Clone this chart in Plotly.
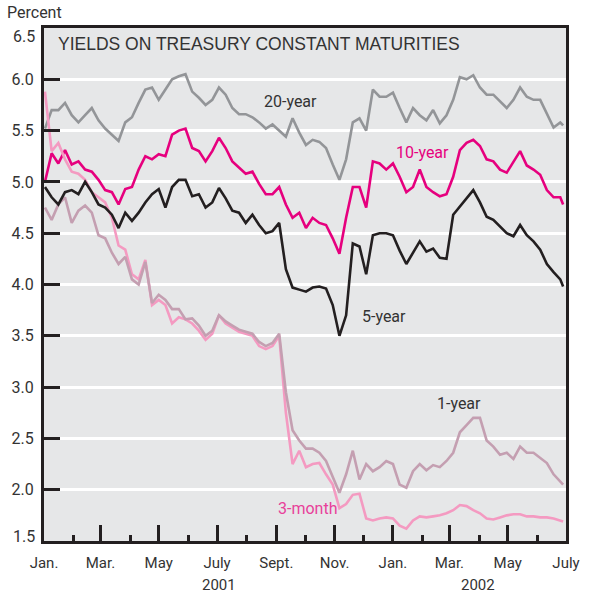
import pandas as pd
import plotly.graph_objects as go

# Weekly observation dates (Jan 2, 2001 ... ) plus final observation
dates = list(pd.date_range("2001-01-02", periods=78, freq="7D").strftime("%Y-%m-%d")) + ["2002-06-28"]

yield_20y = [5.52, 5.70, 5.70, 5.77, 5.65, 5.58, 5.65, 5.72, 5.60, 5.52,
             5.46, 5.40, 5.58, 5.63, 5.77, 5.90, 5.92, 5.80, 5.90, 6.00,
             6.03, 6.05, 5.88, 5.82, 5.75, 5.80, 5.92, 5.85, 5.72, 5.66,
             5.66, 5.63, 5.58, 5.52, 5.56, 5.50, 5.44, 5.62, 5.48, 5.36,
             5.41, 5.39, 5.33, 5.17, 5.02, 5.22, 5.58, 5.62, 5.50, 5.90,
             5.83, 5.83, 5.87, 5.72, 5.58, 5.72, 5.65, 5.60, 5.70, 5.57,
             5.65, 5.80, 6.02, 6.00, 6.04, 5.92, 5.85, 5.85, 5.78, 5.72,
             5.80, 5.92, 5.83, 5.80, 5.80, 5.67, 5.53, 5.58, 5.55]

yield_10y = [5.00, 5.28, 5.18, 5.31, 5.17, 5.20, 5.12, 5.10, 5.02, 4.92,
             4.90, 4.78, 4.93, 4.95, 5.12, 5.25, 5.22, 5.27, 5.25, 5.46,
             5.50, 5.52, 5.33, 5.30, 5.20, 5.30, 5.43, 5.33, 5.20, 5.14,
             5.08, 5.10, 4.98, 4.88, 4.88, 4.95, 4.78, 4.65, 4.70, 4.55,
             4.65, 4.60, 4.58, 4.45, 4.30, 4.65, 4.95, 4.95, 4.75, 5.20,
             5.18, 5.12, 5.18, 5.05, 4.90, 4.95, 5.12, 4.95, 4.90, 4.86,
             4.88, 5.05, 5.31, 5.38, 5.41, 5.35, 5.22, 5.20, 5.12, 5.09,
             5.20, 5.30, 5.16, 5.12, 5.07, 4.92, 4.85, 4.85, 4.78]

yield_5y = [4.95, 4.85, 4.78, 4.90, 4.92, 4.88, 5.00, 4.90, 4.78, 4.75,
            4.68, 4.55, 4.70, 4.62, 4.70, 4.80, 4.88, 4.93, 4.75, 4.95,
            5.02, 5.02, 4.86, 4.88, 4.75, 4.80, 4.94, 4.84, 4.72, 4.70,
            4.60, 4.68, 4.58, 4.50, 4.52, 4.60, 4.15, 3.97, 3.95, 3.93,
            3.97, 3.98, 3.96, 3.80, 3.50, 3.70, 4.40, 4.37, 4.10, 4.48,
            4.50, 4.50, 4.48, 4.33, 4.20, 4.31, 4.42, 4.32, 4.35, 4.26,
            4.25, 4.68, 4.76, 4.85, 4.92, 4.80, 4.66, 4.63, 4.56, 4.50,
            4.47, 4.58, 4.48, 4.42, 4.34, 4.20, 4.12, 4.05, 3.98]

yield_1y = [4.75, 4.63, 4.78, 4.85, 4.60, 4.72, 4.77, 4.70, 4.48, 4.45,
            4.31, 4.20, 4.27, 4.05, 4.00, 4.22, 3.82, 3.90, 3.85, 3.76,
            3.76, 3.66, 3.67, 3.60, 3.50, 3.55, 3.70, 3.64, 3.60, 3.56,
            3.54, 3.52, 3.44, 3.40, 3.43, 3.52, 2.95, 2.58, 2.48, 2.40,
            2.40, 2.36, 2.28, 2.12, 1.97, 2.15, 2.38, 2.10, 2.25, 2.18,
            2.22, 2.28, 2.25, 2.05, 2.02, 2.18, 2.25, 2.19, 2.24, 2.22,
            2.28, 2.36, 2.56, 2.63, 2.70, 2.70, 2.48, 2.42, 2.34, 2.36,
            2.30, 2.42, 2.36, 2.36, 2.31, 2.26, 2.15, 2.08, 2.05]

yield_3m = [5.88, 5.30, 5.38, 5.22, 5.10, 5.08, 5.02, 4.90, 4.85, 4.80,
            4.65, 4.38, 4.34, 4.10, 4.05, 4.24, 3.80, 3.85, 3.80, 3.62,
            3.68, 3.66, 3.62, 3.55, 3.46, 3.52, 3.70, 3.62, 3.58, 3.54,
            3.52, 3.50, 3.40, 3.37, 3.40, 3.50, 2.75, 2.25, 2.38, 2.22,
            2.25, 2.26, 2.15, 2.05, 1.82, 1.86, 1.95, 1.96, 1.72, 1.70,
            1.72, 1.73, 1.72, 1.65, 1.62, 1.70, 1.74, 1.73, 1.74, 1.75,
            1.77, 1.80, 1.85, 1.84, 1.80, 1.77, 1.72, 1.71, 1.73, 1.75,
            1.76, 1.76, 1.74, 1.74, 1.73, 1.73, 1.72, 1.70, 1.69]

major_tick_dates = ["2001-01-01", "2001-03-01", "2001-05-01", "2001-07-01", "2001-09-01",
                    "2001-11-01", "2002-01-01", "2002-03-01", "2002-05-01", "2002-07-01"]
major_tick_labels = ["Jan.", "Mar.", "May", "July", "Sept.", "Nov.", "Jan.", "Mar.", "May", "July"]
minor_tick_dates = ["2001-02-01", "2001-04-01", "2001-06-01", "2001-08-01", "2001-10-01",
                    "2001-12-01", "2002-02-01", "2002-04-01", "2002-06-01"]
y_ticks = [1.5, 2.0, 2.5, 3.0, 3.5, 4.0, 4.5, 5.0, 5.5, 6.0, 6.5]
# end labels (1.5 and 6.5) are drawn nudged inward, as in the original
y_tick_labels = ["", "2.0", "2.5", "3.0", "3.5", "4.0", "4.5", "5.0", "5.5", "6.0", ""]

C20 = "#939598"
C10 = "#e6007e"
C5 = "#231f20"
C1 = "#c49fb1"
C3 = "#f49ac1"
TXT = "#333333"
NARROW = "Roboto, Liberation Sans, sans-serif"

fig = go.Figure()
series = [
    ("20-year", yield_20y, C20),
    ("10-year", yield_10y, C10),
    ("3-month", yield_3m, C3),
    ("1-year", yield_1y, C1),
    ("5-year", yield_5y, C5),
]
for name, vals, col in series:
    fig.add_trace(go.Scatter(x=dates, y=vals, mode="lines", name=name,
                             line=dict(color=col, width=2.6), showlegend=False))

fig.update_layout(
    width=592, height=598,
    margin=dict(l=42, r=20, t=28, b=57),
    paper_bgcolor="white",
    plot_bgcolor="#e6e7e8",
    font=dict(family=NARROW, size=16, color=TXT),
)
fig.update_xaxes(
    type="date", range=["2001-01-01", "2002-07-01"],
    tickmode="array", tickvals=major_tick_dates, ticktext=major_tick_labels,
    ticks="inside", ticklen=16, tickwidth=3, tickcolor=C5,
    minor=dict(tickmode="array", tickvals=minor_tick_dates, ticks="inside",
               ticklen=6, tickwidth=3, tickcolor=C5, showgrid=False),
    showgrid=False, zeroline=False,
    showline=True, linewidth=3, linecolor=C5, mirror=True,
    tickfont=dict(family=NARROW, size=15, color=TXT),
    ticklabelstandoff=6,
)
fig.update_yaxes(
    range=[1.5, 6.5], tickmode="array", tickvals=y_ticks, ticktext=y_tick_labels,
    ticks="inside", ticklen=16, tickwidth=3, tickcolor=C5,
    showgrid=True, gridcolor="white", gridwidth=3, zeroline=False,
    showline=True, linewidth=3, linecolor=C5, mirror=True,
    tickfont=dict(family=NARROW, size=16, color=TXT),
    ticklabelstandoff=4,
)

ann = [
    dict(text="YIELDS ON TREASURY CONSTANT MATURITIES", x=0.0226, y=0.969, xanchor="left",
         yanchor="middle", font=dict(family="Liberation Sans, Arial, sans-serif", size=17.5, color=TXT)),
    dict(text="Percent", x=-0.075, y=1.03, xanchor="left", yanchor="middle",
         font=dict(family=NARROW, size=16, color=TXT)),
    dict(text="6.5", x=-0.0132, y=0.984, xanchor="right", yanchor="middle",
         font=dict(family=NARROW, size=16, color=TXT)),
    dict(text="1.5", x=-0.0132, y=0.0078, xanchor="right", yanchor="middle",
         font=dict(family=NARROW, size=16, color=TXT)),
    dict(text="20-year", x=0.417, y=0.856, xanchor="left", yanchor="middle",
         font=dict(family=NARROW, size=16, color=TXT)),
    dict(text="10-year", x=0.670, y=0.758, xanchor="left", yanchor="middle",
         font=dict(family=NARROW, size=16, color=C10)),
    dict(text="5-year", x=0.606, y=0.437, xanchor="left", yanchor="middle",
         font=dict(family=NARROW, size=16, color=TXT)),
    dict(text="1-year", x=0.749, y=0.269, xanchor="left", yanchor="middle",
         font=dict(family=NARROW, size=16, color=TXT)),
    dict(text="3-month", x=0.445, y=0.064, xanchor="left", yanchor="middle",
         font=dict(family=NARROW, size=16, color="#e8409a")),
    dict(text="2001", x=0.336, y=-0.0858, xanchor="center", yanchor="middle",
         font=dict(family=NARROW, size=15, color=TXT)),
    dict(text="2002", x=0.832, y=-0.0858, xanchor="center", yanchor="middle",
         font=dict(family=NARROW, size=15, color=TXT)),
]
for a in ann:
    fig.add_annotation(xref="paper", yref="paper", showarrow=False, **a)

fig.write_html("out.html", config={"displayModeBar": False},
               post_script="document.body.style.margin='0';")
